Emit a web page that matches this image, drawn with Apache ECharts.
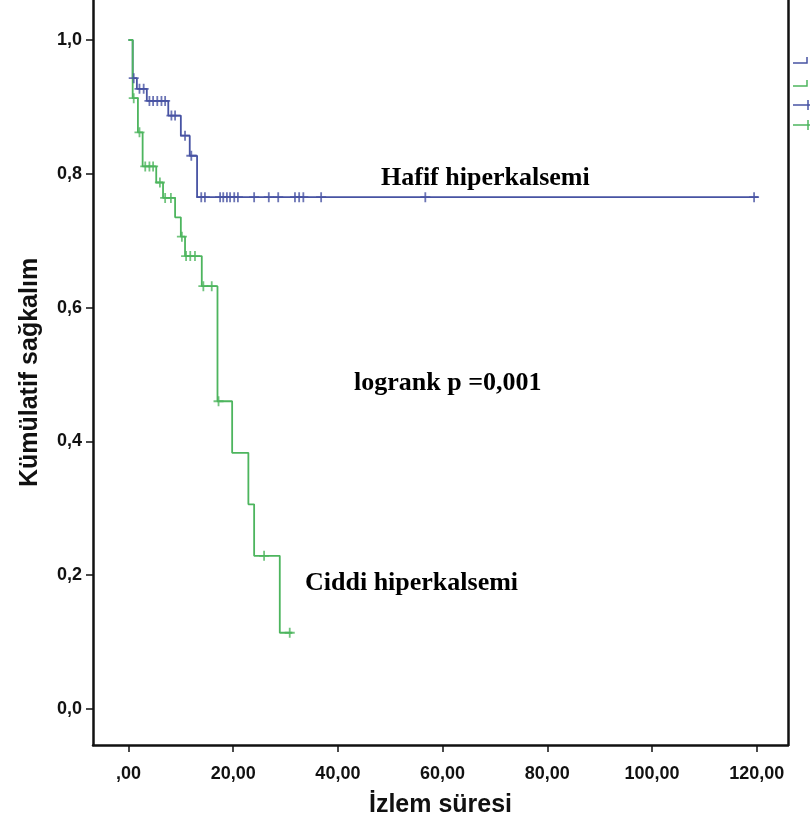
<!DOCTYPE html>
<html>
<head>
<meta charset="utf-8">
<script src="https://cdn.jsdelivr.net/npm/echarts@6/dist/echarts.min.js"></script>
<style>
html,body{margin:0;padding:0;background:#fff;}
#chart{width:810px;height:832px;}
</style>
</head>
<body>
<div id="chart"></div>
<script>
// ---- Data ----
const xTickValues = [0, 20, 40, 60, 80, 100, 120];
const xTickLabels = [',00', '20,00', '40,00', '60,00', '80,00', '100,00', '120,00'];
const yTickValues = [0, 0.2, 0.4, 0.6, 0.8, 1.0];
const yTickLabels = ['0,0', '0,2', '0,4', '0,6', '0,8', '1,0'];

// Hafif hiperkalsemi (blue) step curve
const hafifTimes = [0, 0.8, 1.6, 3.5, 7.6, 10.0, 11.7, 13.1, 120.3];
const hafifSurv  = [1.0, 0.943, 0.927, 0.909, 0.887, 0.857, 0.827, 0.765, 0.765];
const hafifCensored = [1.0, 2.1, 2.9, 4.0, 4.7, 5.5, 6.3, 7.0, 8.2, 8.9, 10.8, 12.0,
  13.9, 14.6, 17.5, 18.1, 18.8, 19.4, 20.2, 20.9, 24.0, 26.8, 28.6, 31.8, 32.6, 33.4, 36.8, 56.7, 119.5];

// Ciddi hiperkalsemi (green) step curve
const ciddiTimes = [0, 0.8, 1.8, 2.7, 5.3, 6.6, 8.9, 10.0, 10.8, 14.0, 17.0, 19.8, 22.9, 24.0, 28.9, 31.3];
const ciddiSurv  = [1.0, 0.913, 0.862, 0.811, 0.787, 0.764, 0.735, 0.706, 0.677, 0.632, 0.460, 0.383, 0.306, 0.229, 0.114, 0.114];
const ciddiCensored = [1.0, 2.1, 3.2, 4.0, 4.7, 6.0, 7.0, 8.1, 10.2, 11.0, 11.8, 12.7, 14.3, 15.9, 17.2, 25.9, 30.8];

const groupNames = ['Hafif hiperkalsemi', 'Ciddi hiperkalsemi'];
const annotationText = 'logrank p =0,001';

// ---- Helpers ----
function survAt(times, surv, t) {
  let s = surv[0];
  for (let i = 0; i < times.length; i++) { if (times[i] <= t) s = surv[i]; }
  return s;
}
const pairs = (ts, ss) => ts.map((t, i) => [t, ss[i]]);
const censorPts = (cs, ts, ss) => cs.map(t => [t, survAt(ts, ss, t)]);

const BLUE = '#4753a3';
const GREEN = '#4db55e';
const plusPath = 'path://M0,5L10,5M5,0L5,10';

const chart = echarts.init(document.getElementById('chart'), null, {renderer: 'canvas'});

const tickFont = {fontFamily: 'Liberation Sans', fontWeight: 'bold', fontSize: 18, color: '#111'};
const titleFont = {fontFamily: 'Liberation Sans', fontWeight: 'bold', fontSize: 25, color: '#111'};
const serifFont = 'bold 26px "Liberation Serif"';

const option = {
  backgroundColor: '#fff',
  animation: false,
  grid: {left: 93, right: 22, top: 0, bottom: 87, containLabel: false},
  xAxis: {
    type: 'value', min: -6.78, max: 125.98,
    name: 'İzlem süresi', nameLocation: 'middle', nameGap: 48,
    nameTextStyle: titleFont,
    axisLine: {show: true, onZero: false, lineStyle: {color: '#111', width: 2.5}},
    axisTick: {show: true, customValues: xTickValues, length: 7, lineStyle: {color: '#111', width: 1.5}},
    axisLabel: Object.assign({customValues: xTickValues, margin: 20,
      formatter: v => xTickLabels[xTickValues.indexOf(Math.round(v))]}, tickFont),
    splitLine: {show: false}
  },
  yAxis: [{
    type: 'value', min: -0.0538, max: 1.0598,
    name: 'Kümülatif sağkalım', nameLocation: 'middle', nameGap: 50, nameRotate: 90,
    nameTextStyle: titleFont,
    axisLine: {show: true, onZero: false, lineStyle: {color: '#111', width: 2.5}},
    axisTick: {show: true, customValues: yTickValues, length: 7, lineStyle: {color: '#111', width: 1.5}},
    axisLabel: Object.assign({customValues: yTickValues, margin: 11,
      formatter: v => yTickLabels[yTickValues.findIndex(x => Math.abs(x - v) < 1e-6)]}, tickFont),
    splitLine: {show: false}
  }, {
    type: 'value', min: -0.0538, max: 1.0598, position: 'right',
    axisLine: {show: true, onZero: false, lineStyle: {color: '#111', width: 2.5}},
    axisTick: {show: false}, axisLabel: {show: false}, splitLine: {show: false}
  }],
  series: [
    {
      name: groupNames[0], type: 'line', step: 'end', showSymbol: false,
      data: pairs(hafifTimes, hafifSurv),
      lineStyle: {color: BLUE, width: 1.8}, z: 2
    },
    {
      name: groupNames[1], type: 'line', step: 'end', showSymbol: false,
      data: pairs(ciddiTimes, ciddiSurv),
      lineStyle: {color: GREEN, width: 1.8}, z: 3
    },
    {
      name: groupNames[0] + ' sansürlü', type: 'scatter', symbol: plusPath, symbolSize: 10,
      data: censorPts(hafifCensored, hafifTimes, hafifSurv),
      itemStyle: {color: 'none', borderColor: BLUE, borderWidth: 1.8}, z: 4
    },
    {
      name: groupNames[1] + ' sansürlü', type: 'scatter', symbol: plusPath, symbolSize: 10,
      data: censorPts(ciddiCensored, ciddiTimes, ciddiSurv),
      itemStyle: {color: 'none', borderColor: GREEN, borderWidth: 1.8}, z: 5
    }
  ],
  graphic: [
    {type: 'text', left: 381, top: 165, style: {text: groupNames[0], font: serifFont, fill: '#000'}},
    {type: 'text', left: 354, top: 370, style: {text: annotationText, font: serifFont, fill: '#000'}},
    {type: 'text', left: 305, top: 570, style: {text: groupNames[1], font: serifFont, fill: '#000'}},
    // cut-off legend keys at the right edge
    {type: 'polyline', shape: {points: [[793, 63], [807, 63], [807, 57]]}, style: {stroke: BLUE, lineWidth: 1.5, fill: null}},
    {type: 'polyline', shape: {points: [[793, 86], [807, 86], [807, 80]]}, style: {stroke: GREEN, lineWidth: 1.5, fill: null}},
    {type: 'polyline', shape: {points: [[793, 105], [810, 105]]}, style: {stroke: BLUE, lineWidth: 1.5, fill: null}},
    {type: 'polyline', shape: {points: [[808, 100], [808, 110]]}, style: {stroke: BLUE, lineWidth: 1.5, fill: null}},
    {type: 'polyline', shape: {points: [[793, 125], [810, 125]]}, style: {stroke: GREEN, lineWidth: 1.5, fill: null}},
    {type: 'polyline', shape: {points: [[808, 120], [808, 130]]}, style: {stroke: GREEN, lineWidth: 1.5, fill: null}}
  ]
};
chart.setOption(option);
</script>
</body>
</html>
